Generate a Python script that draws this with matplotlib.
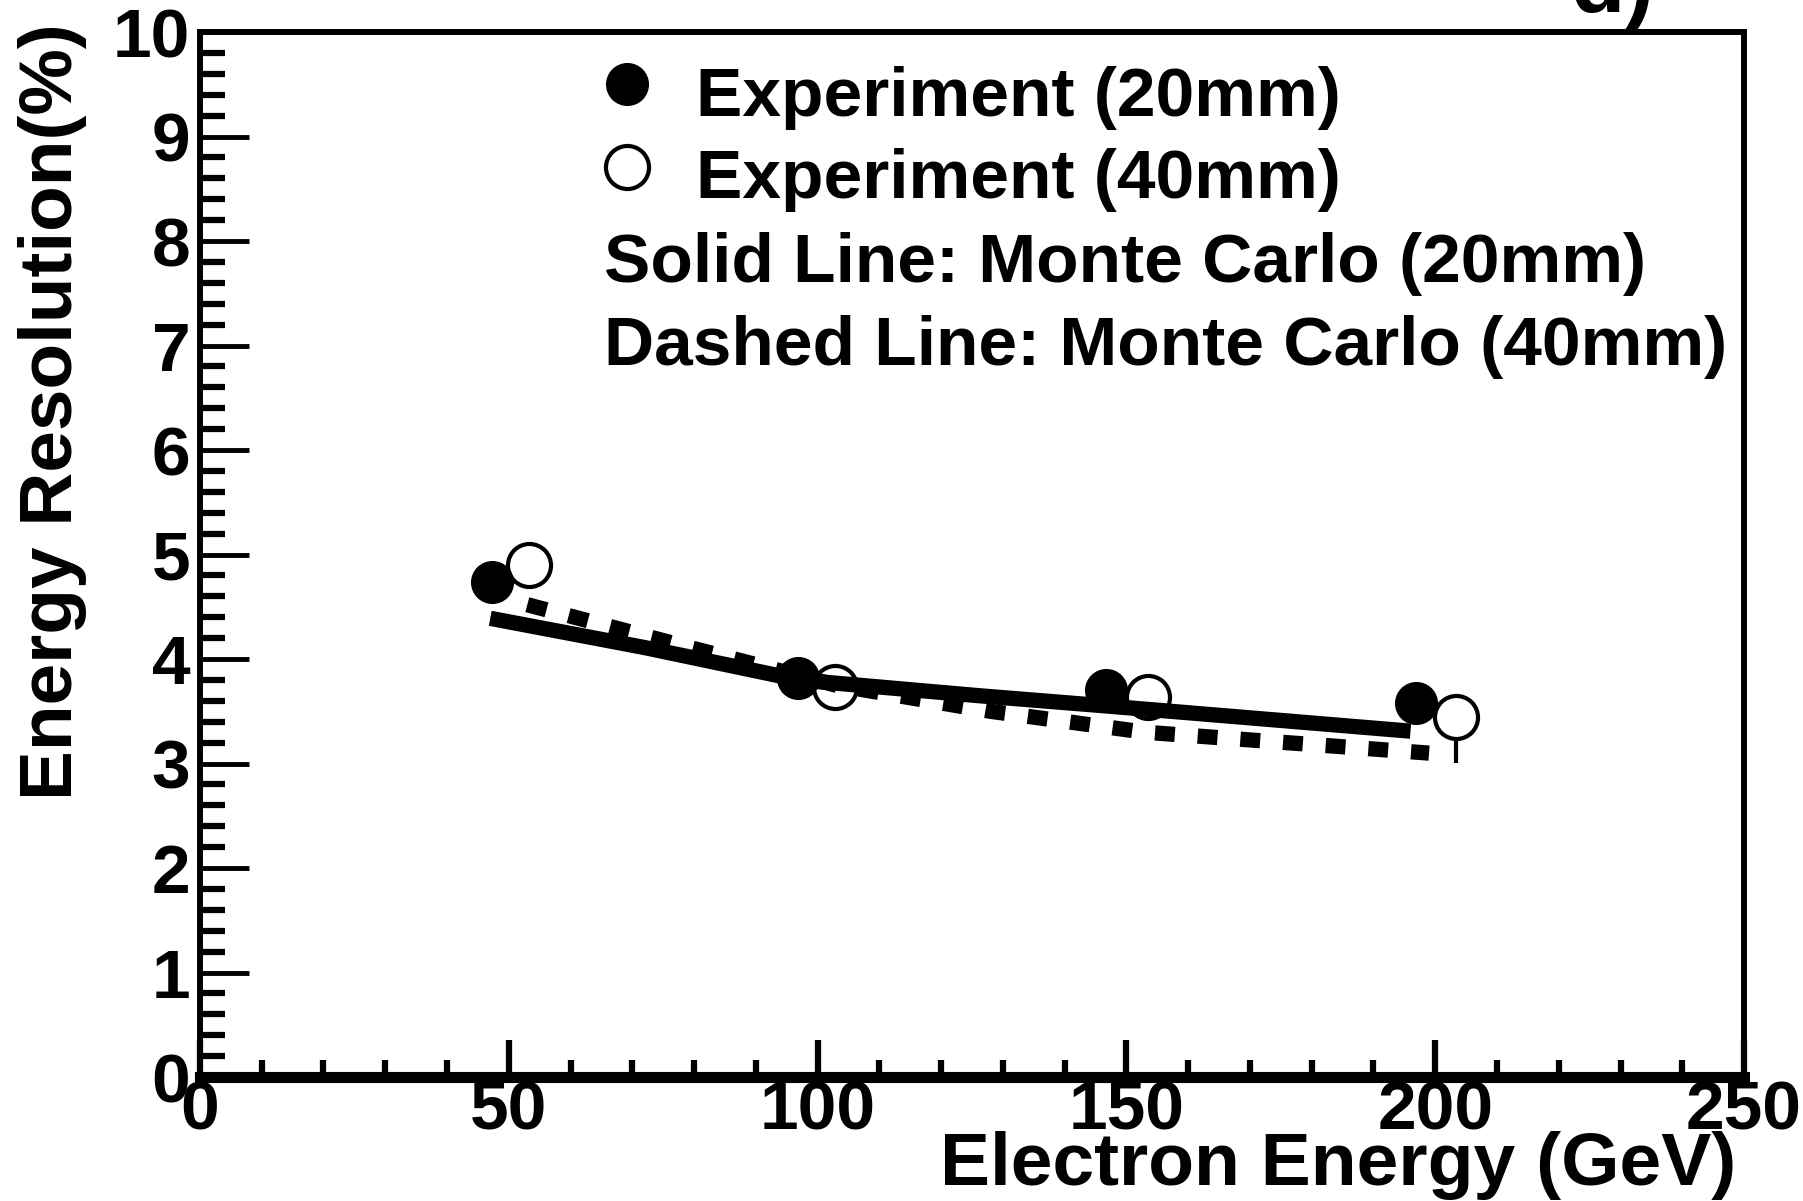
import matplotlib.pyplot as plt
from matplotlib.ticker import MultipleLocator

plt.rcParams['font.family'] = ['Liberation Sans', 'DejaVu Sans']
plt.rcParams['font.weight'] = 'bold'

# Experiment (20mm), filled circles
e_20 = [47.3, 96.9, 146.7, 196.9]
res_20 = [4.74, 3.82, 3.70, 3.58]

# Experiment (40mm), open circles
e_40 = [53.2, 102.9, 153.5, 203.4]
res_40 = [4.90, 3.73, 3.64, 3.45]
err_40_lo = [0.15, 0.15, 0.15, 0.44]
err_40_hi = [0.15, 0.15, 0.15, 0.15]

# Monte Carlo curves
mc_e_20 = [47, 72, 97, 126, 147, 196]
mc_res_20 = [4.39, 4.11, 3.80, 3.65, 3.55, 3.31]
mc_e_40 = [53, 78, 103, 128, 153, 199]
mc_res_40 = [4.52, 4.13, 3.75, 3.50, 3.30, 3.10]

fig = plt.figure(figsize=(18.03, 12.01), dpi=100)
ax = fig.add_axes([0.1109, 0.1032, 0.8564, 0.8701])

# open points: error bars under white-filled circles
ax.errorbar(e_40, res_40, yerr=[err_40_lo, err_40_hi], fmt='none',
            ecolor='black', elinewidth=3, capsize=0, zorder=1)
ax.plot(e_40, res_40, 'o', ms=31, mfc='white', mec='black', mew=3, zorder=2)

ax.plot(mc_e_20, mc_res_20, '-', color='black', lw=11, solid_capstyle='butt', zorder=3)
ax.plot(mc_e_40, mc_res_40, color='black', lw=11, dashes=(1.3, 1.5),
        dash_capstyle='butt', zorder=3)

ax.plot(e_20, res_20, 'o', ms=30, color='black', zorder=4)

ax.set_xlim(0, 250)
ax.set_ylim(0, 10)
ax.xaxis.set_major_locator(MultipleLocator(50))
ax.xaxis.set_minor_locator(MultipleLocator(10))
ax.yaxis.set_major_locator(MultipleLocator(1))
ax.yaxis.set_minor_locator(MultipleLocator(0.2))

ax.tick_params(axis='x', which='major', direction='in', length=27, width=4.5,
               labelsize=50, pad=2)
ax.tick_params(axis='x', which='minor', direction='in', length=12, width=4.5)
ax.tick_params(axis='y', which='major', direction='in', length=35, width=3.5,
               labelsize=50, pad=7)
ax.tick_params(axis='y', which='minor', direction='in', length=18, width=4.5)
for lab in ax.get_xticklabels() + ax.get_yticklabels():
    lab.set_fontweight('bold')

for side in ['top', 'right', 'left']:
    ax.spines[side].set_linewidth(4.3)
ax.spines['bottom'].set_linewidth(8)

ax.text(0.995, -0.103, 'Electron Energy (GeV)', transform=ax.transAxes,
        ha='right', va='baseline', fontsize=54, fontweight='bold')
ax.text(-0.0829, 1.008, 'Energy Resolution(%)', transform=ax.transAxes,
        rotation=90, rotation_mode='anchor', ha='right', va='baseline',
        fontsize=53.8, fontweight='bold')

# legend drawn by hand
ax.plot([0.2766], [0.950], 'o', ms=30, color='black', transform=ax.transAxes, clip_on=False)
ax.plot([0.2766], [0.871], 'o', ms=31, mfc='white', mec='black', mew=3,
        transform=ax.transAxes, clip_on=False)
ax.text(0.321, 0.9196, 'Experiment (20mm)', transform=ax.transAxes,
        va='baseline', fontsize=50, fontweight='bold')
ax.text(0.321, 0.841, 'Experiment (40mm)', transform=ax.transAxes,
        va='baseline', fontsize=50, fontweight='bold')
ax.text(0.2617, 0.761, 'Solid Line: Monte Carlo (20mm)', transform=ax.transAxes,
        va='baseline', fontsize=50, fontweight='bold')
ax.text(0.2617, 0.681, 'Dashed Line: Monte Carlo (40mm)', transform=ax.transAxes,
        va='baseline', fontsize=50, fontweight='bold')

# panel tag, cut by the top edge
fig.text(0.871, 0.990, 'd)', ha='left', va='baseline', fontsize=64, fontweight='bold')

fig.savefig('out.png', dpi=100)
